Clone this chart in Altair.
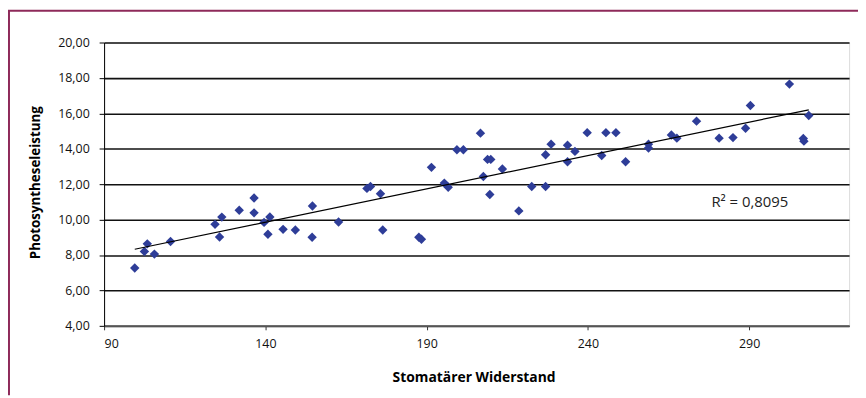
import altair as alt
import pandas as pd

# Stomatärer Widerstand (x) and Photosyntheseleistung (y)
widerstand = [99.5, 102.5, 103.4, 105.6, 110.6, 124.4, 125.8, 126.5, 131.9, 136.5,
              136.5, 139.6, 141.4, 140.8, 145.5, 149.3, 154.5, 154.6, 162.7, 171.5,
              172.6, 175.7, 176.4, 187.6, 188.4, 191.5, 195.5, 196.7, 199.4, 201.4,
              206.7, 207.6, 208.9, 209.9, 209.6, 213.5, 218.6, 222.6, 226.9, 226.9,
              228.6, 233.7, 233.7, 236.0, 239.8, 244.3, 245.6, 248.7, 251.7, 258.8,
              258.8, 265.9, 267.6, 273.7, 280.7, 285.0, 288.9, 290.4, 302.5, 308.5,
              307.0, 306.8]
leistung = [7.27, 8.20, 8.63, 8.05, 8.76, 9.73, 9.02, 10.14, 10.53, 11.22,
            10.38, 9.84, 10.15, 9.17, 9.45, 9.41, 9.00, 10.77, 9.86, 11.76,
            11.87, 11.46, 9.41, 9.00, 8.89, 12.95, 12.06, 11.83, 13.94, 13.94,
            14.88, 12.43, 13.40, 13.40, 11.42, 12.86, 10.49, 11.87, 11.87, 13.66,
            14.26, 14.20, 13.27, 13.85, 14.91, 13.62, 14.91, 14.91, 13.27, 14.26,
            14.04, 14.78, 14.60, 15.56, 14.60, 14.63, 15.16, 16.44, 17.65, 15.88,
            14.43, 14.58]

x_ticks = [90, 140, 190, 240, 290]
y_ticks = [4, 6, 8, 10, 12, 14, 16, 18, 20]
r2_label = "R² = 0,8095"

df = pd.DataFrame({"x": widerstand, "y": leistung})

W, H = 752, 286
FONT = "Open Sans"

x_enc = alt.X("x:Q", scale=alt.Scale(domain=[90, 321], nice=False, zero=False),
              axis=alt.Axis(values=x_ticks, title="Stomatärer Widerstand", grid=False,
                            tickSize=4, labelPadding=8, domainColor="#555555",
                            domainWidth=1.5, tickColor="#333333",
                            labelFont=FONT, labelFontSize=12.5, labelColor="#111111",
                            titleX=373, titleY=52, titleBaseline="middle",
                            titleAlign="center", titleFont=FONT, titleColor="#000000",
                            titleFontSize=14, titleFontWeight="bold"))
y_enc = alt.Y("y:Q", scale=alt.Scale(domain=[4, 20], nice=False, zero=False),
              axis=alt.Axis(values=y_ticks, format=",.2f", title="Photosyntheseleistung",
                            grid=True, gridColor="#111111", gridWidth=1.6,
                            tickSize=5, labelPadding=10, domainColor="#000000",
                            tickColor="#000000", labelOverlap=False,
                            labelFont=FONT, labelFontSize=12.5, labelColor="#111111",
                            titleAngle=270, titleX=-69, titleY=141,
                            titleAlign="center", titleBaseline="middle",
                            titleFont=FONT, titleColor="#000000",
                            titleFontSize=13.5, titleFontWeight="bold"))

base = alt.Chart(df)

points = base.mark_point(shape="diamond", filled=True, size=90, opacity=1,
                         color="#2E3D98").encode(x=x_enc, y=y_enc)

trend = base.transform_regression("x", "y").mark_line(
    color="#000000", strokeWidth=1.2).encode(x=x_enc, y=y_enc)

r2 = alt.Chart(pd.DataFrame({"t": [r2_label]})).mark_text(
    align="left", baseline="middle", fontSize=15, font=FONT, color="#222222"
).encode(text="t:N", x=alt.value(613), y=alt.value(161))

frame_left = alt.Chart(pd.DataFrame({"t": [r2_label]})).mark_rule(
    color="#8E2A5A", strokeWidth=2
).encode(x=alt.value(-96), y=alt.value(-32), y2=alt.value(H + 70))
frame_top = alt.Chart(pd.DataFrame({"t": [r2_label]})).mark_rule(
    color="#8E2A5A", strokeWidth=2
).encode(y=alt.value(-32), x=alt.value(-97), x2=alt.value(W + 9))

chart = alt.layer(points, trend, r2, frame_left, frame_top).properties(
    width=W, height=H,
    autosize=alt.AutoSizeParams(type="none"),
    padding={"left": 97, "top": 33, "right": 9, "bottom": 70},
).configure_view(stroke="#000000", strokeWidth=1).configure(
    locale={"number": {"decimal": ",", "thousands": ".", "grouping": [3],
                       "currency": ["", " €"]}})

chart.save("out.html", embed_options={"renderer": "svg", "actions": False})
